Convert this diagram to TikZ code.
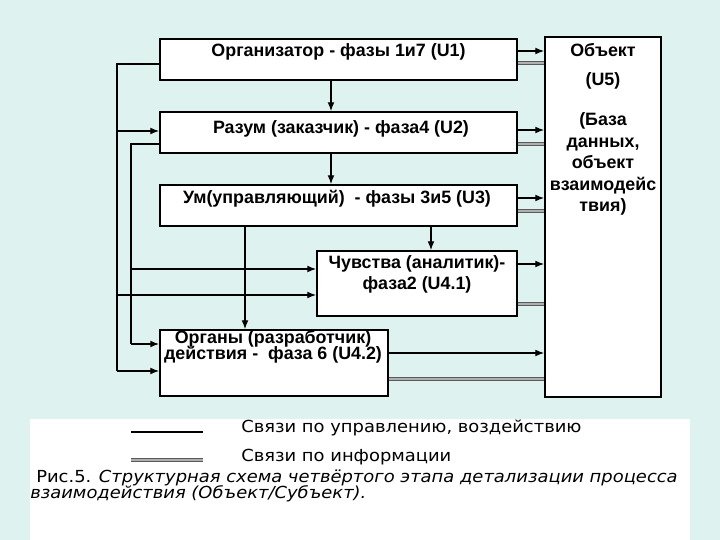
\documentclass[tikz,border=0pt]{standalone}
\usepackage{fontspec}
\setmainfont{Liberation Sans}
\newfontfamily\legendfont[FakeStretch=1.08]{DejaVu Sans}
\usetikzlibrary{arrows.meta}
\definecolor{ColBack}{RGB}{222,243,239}
\definecolor{ColInfo}{RGB}{90,90,90}
\definecolor{ColInfoIn}{RGB}{175,175,175}

\begin{document}
\begin{tikzpicture}[
  x=0.25mm, y=-0.25mm,
  >={Latex[length=2.2mm,width=1.7mm]},
  unit/.style={draw=black, fill=white, line width=1.2pt, inner sep=0pt},
  boxtext/.style={font=\bfseries\fontsize{12.7}{15.3}\selectfont, inner sep=0pt, align=center},
  ctl/.style={line width=0.9pt},
  info/.style={draw=ColInfo, line width=0.8pt, double=ColInfoIn, double distance=1pt},
  legtext/.style={font=\legendfont\fontsize{11.8}{12}\selectfont, anchor=west, inner sep=0pt}
]
  % Page and legend panel
  \fill[ColBack] (0,0) rectangle (720,540);
  \fill[white] (30,419) rectangle (690,540);
  \useasboundingbox (0,0) rectangle (720,540);

  % Units
  \node[unit, minimum width=89.25mm, minimum height=10.25mm] (u1)  at (338.5,59.5) {};
  \node[unit, minimum width=89.25mm, minimum height=10.25mm] (u2)  at (338.5,132.5) {};
  \node[unit, minimum width=89.25mm, minimum height=10.25mm] (u3)  at (338.5,205.5) {};
  \node[unit, minimum width=50mm,    minimum height=16.25mm] (u4a) at (417,283.5) {};
  \node[unit, minimum width=57mm,    minimum height=16.5mm]  (u4b) at (274,363) {};
  \node[unit, minimum width=29mm,    minimum height=90mm]    (u5)  at (603,217) {};

  \node[boxtext] (t1)  at (338.5,52)  {Организатор - фазы 1и7 (U1)};
  \node[boxtext] (t2)  at (341,129)   {Разум (заказчик) - фаза4 (U2)};
  \node[boxtext] (t3)  at (337,199)   {Ум(управляющий)\ \ - фазы 3и5 (U3)};
  \node[boxtext] (t4a) at (417,274.5) {Чувства (аналитик)-\\фаза2 (U4.1)};
  \node[boxtext] (t4b) at (273,347)   {Органы (разработчик)\\[-3.5pt]действия -\ \ фаза 6 (U4.2)};
  \node[boxtext] (t5a) at (603,50)    {Объект};
  \node[boxtext] (t5b) at (603,81)    {(U5)};
  \node[boxtext] (t5c) at (603,164)   {(База\\данных,\\объект\\взаимодейс\\твия)};

  % Vertical control links
  \draw[ctl,->] (u1.south -| 331,0) -- (u2.north -| 331,0);
  \draw[ctl,->] (u2.south -| 331,0) -- (u3.north -| 331,0);
  \draw[ctl,->] (u3.south -| 245,0) -- (u4b.north -| 245,0);
  \draw[ctl,->] (u3.south -| 431,0) -- (u4a.north -| 431,0);

  % Outer bus from U1
  \draw[ctl] (u1.west |- 0,64) -- (117,64) -- (117,371);
  \draw[ctl,->] (117,131) -- (u2.west |- 0,131);
  \draw[ctl,->] (117,295) -- (u4a.west |- 0,295);
  \draw[ctl,->] (117,371) -- (u4b.west |- 0,371);

  % Inner bus from U2
  \draw[ctl] (u2.west |- 0,144) -- (131,144) -- (131,344);
  \draw[ctl,->] (131,269) -- (u4a.west |- 0,269);
  \draw[ctl,->] (131,344) -- (u4b.west |- 0,344);

  % Links to the object: control (arrow) and information (double)
  \foreach \src/\ya/\yb in {u1/51/63, u2/130/144, u3/198/211, u4a/264/304, u4b/353/379}{
    \draw[ctl,->] (\src.east |- 0,\ya) -- (u5.west |- 0,\ya);
    \draw[info] (\src.east |- 0,\yb) -- (u5.west |- 0,\yb);
  }

  % Legend
  \coordinate (k1) at (131,432);
  \coordinate (k2) at (203,432);
  \coordinate (k3) at (131,460);
  \coordinate (k4) at (203,460);
  \draw[line width=1.3pt] (k1) -- (k2);
  \draw[info] (k3) -- (k4);
  \node[legtext] (l1) at (241,428) {Связи по управлению, воздействию};
  \node[legtext] (l2) at (241,457) {Связи по информации};
  \node[legtext] (c1) at (36,478)  {Рис.5. \textit{Структурная схема четвёртого этапа детализации процесса}};
  \node[legtext] (c2) at (30,494)  {\textit{взаимодействия (Объект/Субъект).}};
\end{tikzpicture}
\end{document}
